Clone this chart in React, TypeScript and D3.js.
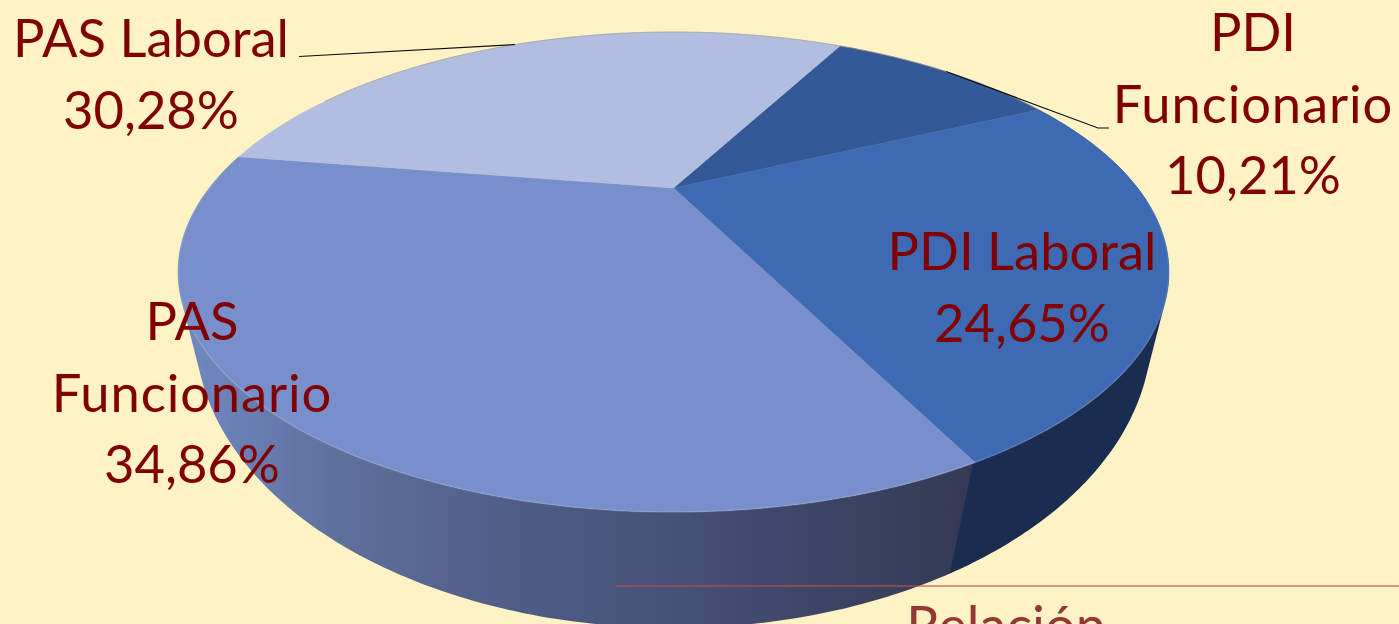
import React from "react";
import * as d3 from "d3";

const categories = ["PDI Funcionario", "PDI Laboral", "PAS Funcionario", "PAS Laboral"];
const shares = [10.21, 24.65, 34.86, 30.28];
const shareLabels = ["10,21%", "24,65%", "34,86%", "30,28%"];
const labelLines = [["PDI", "Funcionario", "10,21%"], ["PDI Laboral", "24,65%"], ["PAS", "Funcionario", "34,86%"], ["PAS Laboral", "30,28%"]];
const topColors = ["#335a96", "#3e6ab4", "#788fcb", "#b1bee0"];
const footerText = "Relación";

// layout
const labelAnchor: [number, number][] = [[1253, 51], [1022, 270], [192, 340], [151, 57]];
const W = 1399, H = 624;
const cx = 673.5, cy = 272, rx = 495.5, ry = 240;
const t = -0.35; // perspective: pie centre seen at 188px
const bcx = 673.5, bcy = 332, brx = 478, bry = 296; // lower rim ellipse
const startDeg = 28;

function topPt(a: number): [number, number] {
  const x = Math.sin(a), y = -Math.cos(a);
  const d = 1 + t * y;
  return [cx + rx * (x * Math.sqrt(1 - t * t)) / d, cy + ry * (y + t) / d];
}
function botPt(a: number): [number, number] {
  const [x, y] = topPt(a);
  const u = (x - cx) / rx, v = (y - cy) / ry;
  const psi = Math.atan2(u, v) * 0.95;
  return [bcx + brx * Math.sin(psi), bcy + bry * Math.cos(psi)];
}
const N = 160;
const sample = (a0: number, a1: number, f: (a: number) => [number, number]) =>
  d3.range(0, N + 1).map((i) => f(a0 + ((a1 - a0) * i) / N));

const pie = d3.pie<number>().sort(null).startAngle((startDeg * Math.PI) / 180).endAngle((startDeg * Math.PI) / 180 + 2 * Math.PI);
const arcs = pie(shares);
const line = d3.line();

function sidePath(a0: number, a1: number) {
  const tops = sample(a0, a1, topPt), bots = sample(a0, a1, botPt);
  return d3.range(0, N).map((i) => {
    const hull = d3.polygonHull([tops[i], tops[i + 1], bots[i + 1], bots[i]]);
    return hull ? line(hull) + "Z" : "";
  }).join("");
}

export default function App() {
  const apex: [number, number] = [cx, cy + ry * t];
  const rimFront = arcs[1];
  return (
    <svg width={W} height={H} viewBox={`0 0 ${W} ${H}`} style={{ position: "absolute", left: 0, top: 0, display: "block", background: "#fff2c4" }} fontFamily="Lato, Carlito, sans-serif">
      <defs>
        <linearGradient id="sideGrad" gradientUnits="userSpaceOnUse" x1={190} x2={960} y1={0} y2={0}>
          <stop offset="0" stopColor="#7087c0" />
          <stop offset="0.2" stopColor="#5d6f9b" />
          <stop offset="0.4" stopColor="#505f88" />
          <stop offset="0.7" stopColor="#424c70" />
          <stop offset="1" stopColor="#343a55" />
        </linearGradient>
      </defs>
      {[2, 1].map((i) => (
        <path key={i} d={sidePath(arcs[i].startAngle, arcs[i].endAngle + (i === 1 ? 0.004 : 0))} fill={i === 1 ? "#1a2c50" : "url(#sideGrad)"} />
      ))}
      {arcs.map((a, i) => (
        <path key={categories[i]} d={line([apex, ...sample(a.startAngle, a.endAngle, topPt)]) + "Z"} fill={topColors[i]} stroke={topColors[i]} strokeWidth={0.5} />
      ))}
      <path d={line(sample(rimFront.startAngle - 2.2, rimFront.startAngle, topPt)) || ""} fill="none" stroke="#9a9a8e" strokeOpacity={0.6} strokeWidth={1} />
      <path d={line(sample(rimFront.startAngle + 0.5, arcs[2].endAngle - 0.1, topPt)) || ""} fill="none" stroke="#ffffff" strokeOpacity={0.09} strokeWidth={2} />
      <path d="M299,56.5 L515,44.5" fill="none" stroke="#111" strokeWidth={1.2} />
      <path d="M946,71.5 L1098,128 L1109,128" fill="none" stroke="#111" strokeWidth={1.2} />
      <path d="M616,586 H1399" stroke="#c0504d" strokeOpacity={0.75} strokeWidth={1.5} />
      <text x={1006} y={645} textAnchor="middle" fontSize={54} fill="#953735">{footerText}</text>
      {labelLines.map((lines, i) => (
        <text key={shareLabels[i]} fill="#800000" fontSize={52.5} textAnchor="middle">
          {lines.map((l, j) => (
            <tspan key={j} x={labelAnchor[i][0]} y={labelAnchor[i][1] + j * 71.5} letterSpacing={l === "Funcionario" ? 0.9 : 0}>{l}</tspan>
          ))}
        </text>
      ))}
    </svg>
  );
}
